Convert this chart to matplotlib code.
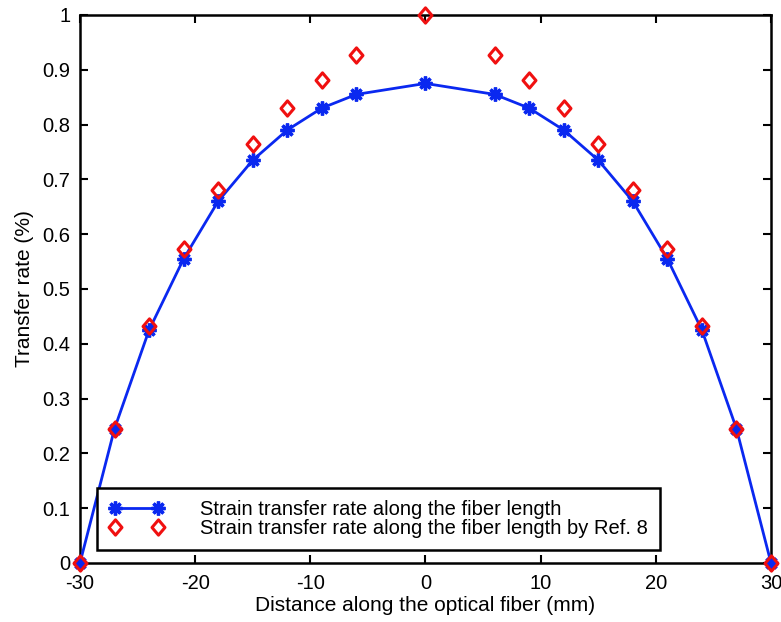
import matplotlib
matplotlib.use("Agg")
import matplotlib.pyplot as plt
from matplotlib.path import Path

plt.rcParams['font.family'] = ['Liberation Sans', 'DejaVu Sans']
plt.rcParams['axes.unicode_minus'] = False

x_blue = [-30, -27, -24, -21, -18, -15, -12, -9, -6, 0, 6, 9, 12, 15, 18, 21, 24, 27, 30]
y_blue = [0, 0.245, 0.425, 0.555, 0.66, 0.735, 0.79, 0.83, 0.855, 0.875,
          0.855, 0.83, 0.79, 0.735, 0.66, 0.555, 0.425, 0.245, 0]
x_red = [-30, -27, -24, -21, -18, -15, -12, -9, -6, 0, 6, 9, 12, 15, 18, 21, 24, 27, 30]
y_red = [0, 0.245, 0.432, 0.573, 0.68, 0.765, 0.83, 0.882, 0.926, 1.0,
         0.926, 0.882, 0.83, 0.765, 0.68, 0.573, 0.432, 0.245, 0]

xticks = [-30, -20, -10, 0, 10, 20, 30]
yticks = [0, 0.1, 0.2, 0.3, 0.4, 0.5, 0.6, 0.7, 0.8, 0.9, 1]
ytick_labels = ['0', '0.1', '0.2', '0.3', '0.4', '0.5', '0.6', '0.7', '0.8', '0.9', '1']

diamond = Path([(0, 1), (0.85, 0), (0, -1), (-0.85, 0), (0, 1)],
               [Path.MOVETO, Path.LINETO, Path.LINETO, Path.LINETO, Path.CLOSEPOLY])

fig = plt.figure(figsize=(7.81, 6.22), dpi=100)
ax = fig.add_axes([0.1024, 0.0949, 0.8848, 0.8811])

ax.plot(x_blue, y_blue, color='#0a28f0', lw=2, marker=(8, 2, 0), markersize=10,
        markeredgewidth=2.4, clip_on=False, zorder=3,
        label='Strain transfer rate along the fiber length')
ax.plot(x_red, y_red, linestyle='none', marker=diamond, markersize=11,
        markerfacecolor='none', markeredgecolor='#f01010', markeredgewidth=2.2,
        clip_on=False, zorder=4,
        label='Strain transfer rate along the fiber length by Ref. 8')

ax.set_xlim(-30, 30)
ax.set_ylim(0, 1)
ax.set_xticks(xticks)
ax.set_yticks(yticks)
ax.set_yticklabels(ytick_labels)
ax.tick_params(direction='in', top=True, right=True, length=6, width=1.5, labelsize=14.5)
ax.tick_params(axis='x', pad=8)
ax.tick_params(axis='y', pad=7)
for s in ax.spines.values():
    s.set_linewidth(1.8)

ax.set_xlabel('Distance along the optical fiber (mm)', fontsize=15, labelpad=2)
ax.set_ylabel('Transfer rate (%)', fontsize=15, labelpad=6)

leg = ax.legend(loc='lower left', bbox_to_anchor=(0.0246, 0.0237), borderaxespad=0,
                numpoints=2, fancybox=False, edgecolor='black', framealpha=1,
                fontsize=14.5, handlelength=2.75, labelspacing=0.0, borderpad=0.6,
                handletextpad=1.75)
leg.get_frame().set_linewidth(1.8)

fig.savefig('out.png', dpi=100)
